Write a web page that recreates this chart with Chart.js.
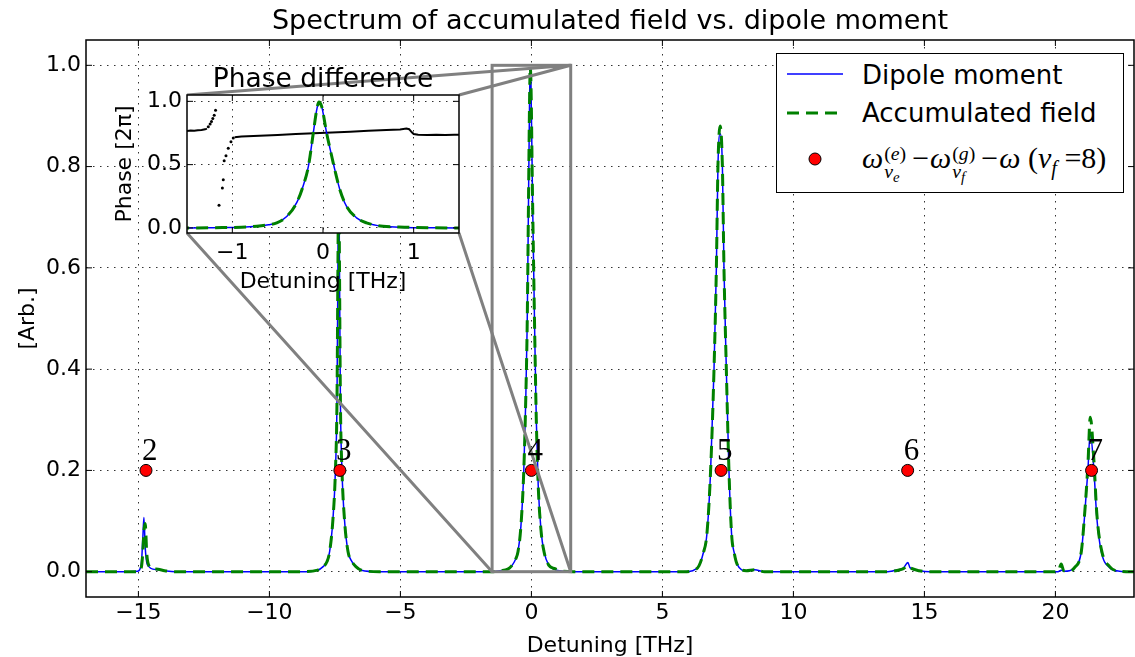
<!DOCTYPE html>
<html>
<head>
<meta charset="utf-8">
<script src="https://cdn.jsdelivr.net/npm/chart.js@4.4.1/dist/chart.umd.min.js"></script>
<style>
  html, body { margin: 0; padding: 0; background: #fff; }
  #wrap { position: relative; width: 1135px; height: 657px; overflow: hidden; }
  #main { position: absolute; left: 0; top: 0; }
  #inset { position: absolute; left: 100px; top: 60px; }
  #legend {
    position: absolute; left: 776px; top: 53px; width: 348px; height: 140px;
    box-sizing: border-box; border: 1.5px solid #000; background: #fff;
    font-family: "DejaVu Sans", sans-serif; font-size: 26px; color: #000;
  }
  #legend .sw { position: absolute; left: 10px; }
  #legend .txt { position: absolute; left: 85px; line-height: 26px; white-space: nowrap; }
  .math { font-family: "Liberation Serif", "DejaVu Serif", serif; font-size: 30px; }
  .ss { display: inline-flex; flex-direction: column; font-size: 0.66em; line-height: 18px; vertical-align: 8px; margin-left: 1px; }
  .s2 { font-size: 0.75em; position: relative; top: 0.3em; }
  .s1 { font-size: 0.68em; position: relative; top: 0.35em; }
  .op { margin: 0 1px 0 6px; }
</style>
</head>
<body>
<div id="wrap">
  <canvas id="main" width="1135" height="657"></canvas>
  <canvas id="inset" width="370" height="240"></canvas>
  <div id="legend">
    <svg class="sw" style="top:13px" width="56" height="14"><line x1="0" y1="7" x2="56" y2="7" stroke="#0000ff" stroke-width="1.5"/></svg>
    <div class="txt" style="top:8px">Dipole moment</div>
    <svg class="sw" style="top:52px" width="56" height="14"><line x1="0" y1="7" x2="56" y2="7" stroke="#008000" stroke-width="3" stroke-dasharray="12 7"/></svg>
    <div class="txt" style="top:46px">Accumulated field</div>
    <svg class="sw" style="top:91px" width="56" height="28"><circle cx="28" cy="14" r="6" fill="#ff0000" stroke="#000" stroke-width="1"/></svg>
    <div class="txt math" style="top:90px"><i>ω</i><span class="ss"><span>(<i>e</i>)</span><span><i>ν</i><span class="s2"><i>e</i></span></span></span><span class="op">−</span><i>ω</i><span class="ss"><span>(<i>g</i>)</span><span><i>ν</i><span class="s2"><i>f</i></span></span></span><span class="op">−</span><i>ω</i> (<i>ν</i><span class="s1"><i>f</i></span>&nbsp;=8)</div>
  </div>
</div>
<script>
// Spectrum data (detuning in THz, normalised amplitude)
const detuning = [
  -17.0, -15.6, -15.03, -14.89, -14.83, -14.79, -14.74, -14.68, -14.6, -14.45, -14.25, -14.0, -13.6,
  -8.8, -8.16, -7.95, -7.8, -7.7, -7.58, -7.48, -7.42, -7.385, -7.355, -7.325, -7.29, -7.23, -7.13, -7.0, -6.85, -6.7, -6.49, -5.8,
  -1.5, -1.2, -0.9, -0.73, -0.6, -0.51, -0.40, -0.29, -0.22, -0.16, -0.107, -0.07, -0.045, -0.015, 0.04, 0.095, 0.13, 0.187, 0.26, 0.37, 0.48, 0.66, 0.9, 1.2, 1.6,
  5.8, 6.16, 6.4, 6.55, 6.70, 6.84, 6.97, 7.06, 7.12, 7.2, 7.29, 7.35, 7.44, 7.54, 7.64, 7.75, 7.85, 8.2, 8.52, 8.9,
  13.6, 14.0, 14.2, 14.37, 14.45, 14.8, 15.2,
  20.1, 20.22, 20.32, 20.54, 20.73, 20.99, 21.11, 21.24, 21.33, 21.47, 21.58, 21.75, 22.07, 22.45, 23.0
];
const dipole = [
  0, 0, 0.001, 0.015, 0.068, 0.107, 0.048, 0.018, 0.01, 0.005, 0.004, 0.002, 0,
  0, 0.003, 0.01, 0.02, 0.04, 0.1, 0.2, 0.34, 0.6, 0.8, 0.6, 0.34, 0.2, 0.1, 0.04, 0.02, 0.01, 0.003, 0,
  0, 0.002, 0.005, 0.013, 0.025, 0.04, 0.09, 0.2, 0.33, 0.49, 0.75, 0.93, 0.995, 0.96, 0.75, 0.57, 0.46, 0.3, 0.17, 0.08, 0.04, 0.013, 0.004, 0.001, 0,
  0, 0.002, 0.012, 0.035, 0.075, 0.2, 0.4, 0.6, 0.8, 0.865, 0.8, 0.6, 0.4, 0.2, 0.075, 0.035, 0.015, 0.002, 0.004, 0,
  0, 0.004, 0.007, 0.018, 0.008, 0.002, 0,
  0, 0.003, 0.001, 0.002, 0.008, 0.04, 0.107, 0.2, 0.275, 0.2, 0.107, 0.04, 0.008, 0.001, 0
];
const field = [
  0, 0, 0, 0.008, 0.04, 0.08, 0.095, 0.035, 0.012, 0.006, 0.005, 0.002, 0,
  0, 0.003, 0.01, 0.02, 0.04, 0.1, 0.2, 0.34, 0.6, 0.8, 0.6, 0.34, 0.2, 0.1, 0.04, 0.02, 0.01, 0.003, 0,
  0, 0.002, 0.005, 0.013, 0.025, 0.04, 0.09, 0.2, 0.33, 0.49, 0.75, 0.93, 0.995, 0.96, 0.75, 0.57, 0.46, 0.3, 0.17, 0.08, 0.04, 0.013, 0.006, 0.001, 0,
  0, 0.002, 0.012, 0.035, 0.075, 0.2, 0.4, 0.6, 0.8, 0.88, 0.8, 0.6, 0.4, 0.2, 0.075, 0.035, 0.015, 0.002, 0.004, 0,
  0, 0.003, 0.006, 0.012, 0.008, 0.002, 0,
  0, 0.015, 0.002, 0.002, 0.008, 0.04, 0.11, 0.21, 0.305, 0.22, 0.115, 0.045, 0.01, 0.001, 0
];

// transition frequencies for nu_e = 2..7
const levelX = [-14.71, -7.31, 0, 7.24, 14.36, 21.38];
const levelY = [0.2, 0.2, 0.2, 0.2, 0.2, 0.2];
const levelLabels = ['2', '3', '4', '5', '6', '7'];

const xTicks = [-15, -10, -5, 0, 5, 10, 15, 20];
const yTicks = [0, 0.2, 0.4, 0.6, 0.8, 1.0];

// inset: phase difference around the nu_e = 4 line
const phaseX = [-1.5, -1.46, -1.42, -1.38, -1.34, -1.3, -1.28, -1.275, -0.975, -0.9, -0.7, -0.5, -0.3, -0.1, 0.1, 0.3, 0.5, 0.7, 0.85, 0.92, 0.95, 0.98, 1.0, 1.05, 1.15, 1.25, 1.35, 1.45, 1.5];
const phaseY = [0.765, 0.77, 0.768, 0.772, 0.774, 0.779, 0.785, null, 0.716, 0.722, 0.728, 0.735, 0.741, 0.748, 0.754, 0.76, 0.767, 0.773, 0.778, 0.785, 0.78, 0.755, 0.742, 0.737, 0.735, 0.737, 0.734, 0.736, 0.737];
const jumpX = [-1.265, -1.245, -1.23, -1.215, -1.2, -1.185, -1.147, -1.11, -1.1, -1.09, -1.07, -1.045, -1.015, -0.99];
const jumpY = [0.80, 0.82, 0.84, 0.865, 0.89, 0.93, 0.18, 0.316, 0.38, 0.53, 0.57, 0.63, 0.68, 0.71];
const insetXTicks = [-1, 0, 1];
const insetYTicks = [0, 0.5, 1.0];

// zoomed region marked on the main plot
const zoomBoxX = [-1.5, 1.5];
const zoomBoxY = [0, 1];

const INSET_LEFT = 100, INSET_TOP = 60;

Chart.defaults.font.family = '"DejaVu Sans", sans-serif';
Chart.defaults.color = '#000';
Chart.defaults.animation = false;

const toXY = (xs, ys) => xs.map((x, i) => ({ x: x, y: ys[i] }));
const minus = v => (v < 0 ? '\u2212' + Math.abs(v) : String(v));

// chart.js keeps a few px on the right for tick labels; pin the plot's right edge instead
const pinRight = {
  id: 'pinRight',
  afterLayout(chart, args, opts) {
    const a = chart.chartArea, x = chart.scales.x;
    const R = chart.width - opts.gap;
    a.right = R; a.width = R - a.left;
    x.right = R; x.width = R - x.left;
    x.configure();
  }
};

// matplotlib-ish frame with inward ticks on all four sides
const frameTicks = {
  id: 'frameTicks',
  afterDraw(chart) {
    const { ctx, chartArea: a, scales } = chart;
    const len = 6;
    ctx.save();
    ctx.strokeStyle = '#000';
    ctx.lineWidth = 1;
    ctx.beginPath();
    scales.x.ticks.forEach(t => {
      const px = scales.x.getPixelForValue(t.value);
      ctx.moveTo(px, a.bottom); ctx.lineTo(px, a.bottom - len);
      ctx.moveTo(px, a.top); ctx.lineTo(px, a.top + len);
    });
    scales.y.ticks.forEach(t => {
      const py = scales.y.getPixelForValue(t.value);
      ctx.moveTo(a.left, py); ctx.lineTo(a.left + len, py);
      ctx.moveTo(a.right, py); ctx.lineTo(a.right - len, py);
    });
    ctx.stroke();
    ctx.lineWidth = 1.5;
    ctx.strokeRect(a.left, a.top, a.right - a.left, a.bottom - a.top);
    ctx.restore();
  }
};

// title centred over the plot area (like matplotlib), not over the canvas
const axesTitle = {
  id: 'axesTitle',
  afterDraw(chart, args, opts) {
    const { ctx, chartArea: a } = chart;
    ctx.save();
    ctx.fillStyle = '#000';
    ctx.font = opts.size + 'px "DejaVu Sans", sans-serif';
    ctx.textAlign = 'center';
    ctx.textBaseline = 'alphabetic';
    ctx.fillText(opts.text, (a.left + a.right) / 2, a.top - opts.gap);
    ctx.restore();
  }
};

const whitePlot = {
  id: 'whitePlot',
  beforeDraw(chart) {
    const { ctx, chartArea: a } = chart;
    ctx.save();
    ctx.fillStyle = '#fff';
    ctx.fillRect(a.left, a.top, a.right - a.left, a.bottom - a.top);
    ctx.restore();
  }
};

const gridOpts = { color: 'rgba(0,0,0,0.8)', lineWidth: 1, drawTicks: false };
const borderOpts = { display: false, dash: [1.5, 5.5] };
const fixX = h => s => { s.height = h; s.paddingLeft = 0; s.paddingRight = 0; };
const fixY = w => s => { s.width = w; s.paddingTop = 0; s.paddingBottom = 0; };

// ---- inset ----
const insetChart = new Chart(document.getElementById('inset'), {
  type: 'line',
  data: {
    datasets: [
      { data: toXY(detuning, field), borderColor: '#008000', borderWidth: 3, borderDash: [12, 7], pointRadius: 0, cubicInterpolationMode: 'monotone', order: 1 },
      { data: toXY(detuning, dipole), borderColor: '#0000ff', borderWidth: 1.5, pointRadius: 0, cubicInterpolationMode: 'monotone', order: 2 },
      { data: toXY(phaseX, phaseY), borderColor: '#000', borderWidth: 2, pointRadius: 0, spanGaps: false, order: 3 },
      { data: toXY(jumpX, jumpY), showLine: false, pointRadius: 1.5, pointBorderWidth: 0, pointBackgroundColor: '#000', order: 4 }
    ]
  },
  options: {
    responsive: false,
    devicePixelRatio: 1,
    layout: { padding: { top: 35, right: 11 } },
    plugins: {
      legend: { display: false },
      tooltip: { enabled: false },
      title: { display: false },
      pinRight: { gap: 11 },
      axesTitle: { text: 'Phase difference', size: 26.5, gap: 8 }
    },
    scales: {
      x: {
        type: 'linear', min: -1.5, max: 1.5,
        afterBuildTicks: s => { s.ticks = insetXTicks.map(v => ({ value: v })); },
        afterFit: fixX(67),
        grid: gridOpts, border: borderOpts,
        ticks: { font: { size: 22 }, padding: 7, maxRotation: 0, callback: v => minus(v) },
        title: { display: true, text: 'Detuning [THz]', font: { size: 22, lineHeight: 1 }, padding: { top: 0, bottom: 7 } }
      },
      y: {
        min: -0.04, max: 1.05,
        afterBuildTicks: s => { s.ticks = insetYTicks.map(v => ({ value: v })); },
        afterFit: fixY(87),
        grid: gridOpts, border: borderOpts,
        ticks: { font: { size: 22 }, padding: 5, callback: v => v.toFixed(1) },
        title: { display: true, text: 'Phase [2π]', font: { size: 22, lineHeight: 1 }, padding: { top: 14, bottom: 0 } }
      }
    }
  },
  plugins: [pinRight, whitePlot, frameTicks, axesTitle]
});

// grey zoom box, connectors and level numbers on the main plot
const zoomMarks = {
  id: 'zoomMarks',
  afterDatasetsDraw(chart) {
    const { ctx, scales: { x, y } } = chart;
    const x0 = x.getPixelForValue(zoomBoxX[0]), x1 = x.getPixelForValue(zoomBoxX[1]);
    const y0 = y.getPixelForValue(zoomBoxY[0]), y1 = y.getPixelForValue(zoomBoxY[1]);
    const ia = insetChart.chartArea;
    const L = INSET_LEFT + ia.left, R = INSET_LEFT + ia.right;
    const T = INSET_TOP + ia.top, B = INSET_TOP + ia.bottom;
    ctx.save();
    ctx.strokeStyle = '#808080';
    ctx.lineWidth = 3;
    ctx.strokeRect(x0, y1, x1 - x0, y0 - y1);
    ctx.beginPath();
    ctx.moveTo(L, T); ctx.lineTo(x1, y1);
    ctx.moveTo(R, T); ctx.lineTo(x1, y1);
    ctx.moveTo(L, B); ctx.lineTo(x0, y0);
    ctx.moveTo(R, B); ctx.lineTo(x1, y0);
    ctx.stroke();

    // nu_e numbers above the red markers
    const pts = chart.getDatasetMeta(0).data;
    ctx.fillStyle = '#000';
    ctx.font = '31px "Liberation Serif", "DejaVu Serif", serif';
    ctx.textAlign = 'left';
    ctx.textBaseline = 'alphabetic';
    pts.forEach((p, i) => ctx.fillText(levelLabels[i], p.x - 4, p.y - 10));
    ctx.restore();
  }
};

// ---- main chart ----
new Chart(document.getElementById('main'), {
  type: 'line',
  data: {
    datasets: [
      { label: 'levels', data: toXY(levelX, levelY), showLine: false, pointRadius: 6, pointBackgroundColor: '#ff0000', pointBorderColor: '#000', pointBorderWidth: 1, order: 0 },
      { label: 'Accumulated field', data: toXY(detuning, field), borderColor: '#008000', borderWidth: 3, borderDash: [12, 7], pointRadius: 0, cubicInterpolationMode: 'monotone', order: 1 },
      { label: 'Dipole moment', data: toXY(detuning, dipole), borderColor: '#0000ff', borderWidth: 1.5, pointRadius: 0, cubicInterpolationMode: 'monotone', order: 2 }
    ]
  },
  options: {
    responsive: false,
    devicePixelRatio: 1,
    layout: { padding: { top: 40, right: 1 } },
    plugins: {
      legend: { display: false },
      tooltip: { enabled: false },
      title: { display: false },
      pinRight: { gap: 1 },
      axesTitle: { text: 'Spectrum of accumulated field vs. dipole moment', size: 27, gap: 11 }
    },
    scales: {
      x: {
        type: 'linear', min: -17, max: 23,
        afterBuildTicks: s => { s.ticks = xTicks.map(v => ({ value: v })); },
        afterFit: fixX(60),
        grid: gridOpts, border: borderOpts,
        ticks: { font: { size: 22 }, padding: 3, maxRotation: 0, callback: v => minus(v) },
        title: { display: true, text: 'Detuning [THz]', font: { size: 22, lineHeight: 1 }, padding: { top: 0, bottom: 0 } }
      },
      y: {
        min: -0.05, max: 1.05,
        afterBuildTicks: s => { s.ticks = yTicks.map(v => ({ value: v })); },
        afterFit: fixY(86),
        grid: gridOpts, border: borderOpts,
        ticks: { font: { size: 22 }, padding: 5, callback: v => v.toFixed(1) },
        title: { display: true, text: '[Arb.]', font: { size: 22, lineHeight: 1 }, padding: { top: 17, bottom: 0 } }
      }
    }
  },
  plugins: [pinRight, zoomMarks, frameTicks, axesTitle]
});
</script>
</body>
</html>
